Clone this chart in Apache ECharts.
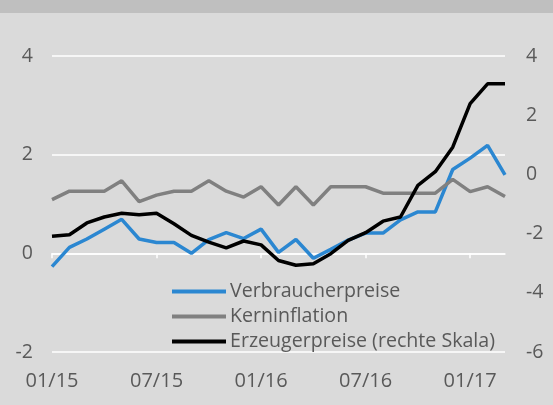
<!DOCTYPE html>
<html>
<head>
<meta charset="utf-8">
<script src="https://cdn.jsdelivr.net/npm/echarts@6/dist/echarts.min.js"></script>
<style>
  html, body { margin: 0; padding: 0; }
  #chart { width: 553px; height: 405px; }
</style>
</head>
<body>
<div id="chart"></div>
<script>
// Monate 01/15 bis 03/17
const months = ['01/15', '02/15', '03/15', '04/15', '05/15', '06/15', '07/15', '08/15', '09/15',
    '10/15', '11/15', '12/15', '01/16', '02/16', '03/16', '04/16', '05/16', '06/16', '07/16',
    '08/16', '09/16', '10/16', '11/16', '12/16', '01/17', '02/17', '03/17'];

const verbraucherpreise = [-0.27, 0.12, 0.29, 0.49, 0.69, 0.29, 0.22, 0.22, 0.0, 0.28, 0.42, 0.30, 0.49,
    0.02, 0.28, -0.10, 0.08, 0.27, 0.41, 0.41, 0.68, 0.84, 0.84, 1.70, 1.93, 2.19, 1.59];

const kerninflation = [1.09, 1.26, 1.26, 1.26, 1.47, 1.05, 1.18, 1.26, 1.26, 1.47, 1.26, 1.14, 1.35,
    0.98, 1.35, 0.98, 1.35, 1.35, 1.35, 1.22, 1.22, 1.22, 1.22, 1.50, 1.25, 1.35, 1.15];

// rechte Skala
const erzeugerpreise = [-2.09, -2.04, -1.64, -1.44, -1.31, -1.36, -1.31, -1.67, -2.06, -2.29, -2.48, -2.25, -2.38,
    -2.91, -3.07, -3.02, -2.68, -2.23, -1.97, -1.58, -1.44, -0.37, 0.09, 0.92, 2.39, 3.06, 3.06];

const textColor = '#595959';
const font = '"Open Sans", "Noto Sans", sans-serif';

const myChart = echarts.init(document.getElementById('chart'));
myChart.setOption({
    animation: false,
    backgroundColor: '#dadada',
    graphic: [{
        type: 'rect',
        left: 0,
        top: 0,
        shape: { width: 553, height: 13 },
        style: { fill: '#bfbfbf' }
    }],
    grid: { left: 52, right: 48, top: 56, bottom: 53 },
    legend: {
        orient: 'vertical',
        left: 167,
        top: 274,
        itemWidth: 54,
        itemHeight: 4,
        itemGap: 0,
        icon: 'rect',
        textStyle: { color: textColor, fontSize: 19.6, fontFamily: font, lineHeight: 25, padding: [0, 0, 0, -1] },
        data: ['Verbraucherpreise', 'Kerninflation', 'Erzeugerpreise (rechte Skala)']
    },
    xAxis: [
        {
            type: 'category',
            data: months,
            boundaryGap: false,
            axisLine: { show: false, onZero: false },
            axisTick: { show: false },
            axisLabel: { interval: 5, color: textColor, fontSize: 20, fontFamily: font, margin: 19 }
        },
        {
            type: 'category',
            data: months,
            position: 'bottom',
            boundaryGap: false,
            axisLine: { onZero: true, lineStyle: { color: '#ffffff', width: 1.5 } },
            axisTick: { interval: 5, length: 5, lineStyle: { color: '#ffffff', width: 1.5 } },
            axisLabel: { show: false }
        }
    ],
    yAxis: [
        {
            type: 'value',
            min: -2,
            max: 4,
            interval: 2,
            axisLabel: { color: textColor, fontSize: 19.5, fontFamily: font, margin: 19 },
            splitLine: { lineStyle: { color: '#ffffff', width: 1.5 } }
        },
        {
            type: 'value',
            min: -6,
            max: 4,
            interval: 2,
            axisLabel: { color: textColor, fontSize: 19.5, fontFamily: font, margin: 21 },
            splitLine: { show: false }
        }
    ],
    series: [
        {
            name: 'Verbraucherpreise',
            type: 'line',
            data: verbraucherpreise,
            symbol: 'none',
            itemStyle: { color: '#2b87d1' },
            lineStyle: { color: '#2b87d1', width: 3.5 }
        },
        {
            name: 'Kerninflation',
            type: 'line',
            data: kerninflation,
            symbol: 'none',
            itemStyle: { color: '#808080' },
            lineStyle: { color: '#808080', width: 3.5 }
        },
        {
            name: 'Erzeugerpreise (rechte Skala)',
            type: 'line',
            yAxisIndex: 1,
            data: erzeugerpreise,
            symbol: 'none',
            itemStyle: { color: '#000000' },
            lineStyle: { color: '#000000', width: 3.5 }
        }
    ]
});
</script>
</body>
</html>
